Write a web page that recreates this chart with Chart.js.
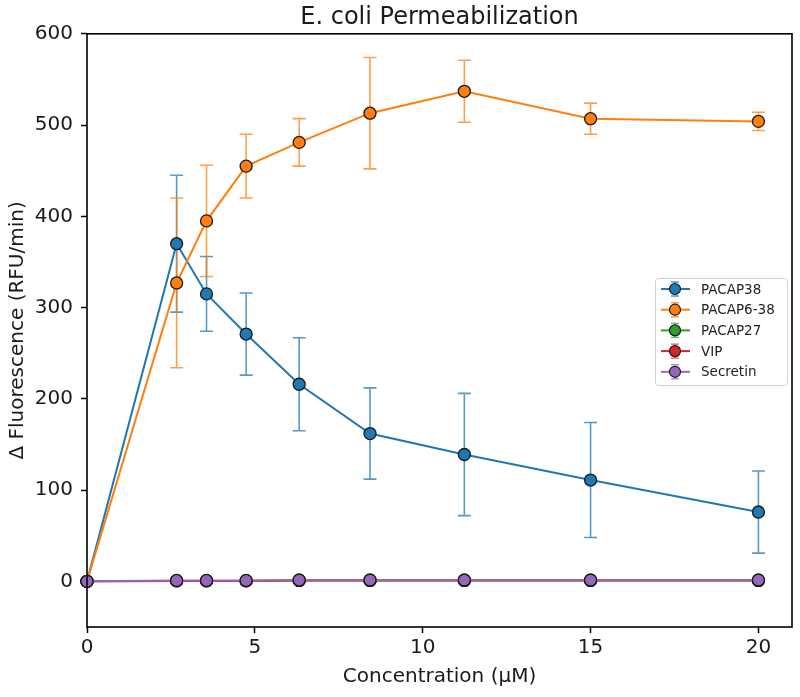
<!DOCTYPE html>
<html>
<head>
<meta charset="utf-8">
<script src="https://cdn.jsdelivr.net/npm/chart.js@4.4.0/dist/chart.umd.min.js"></script>
<style>
  html, body { margin: 0; padding: 0; background: #fff; }
</style>
</head>
<body>
<canvas id="permChart" width="800" height="697"></canvas>
<script>
// concentrations in uM (two-fold-ish dilution series)
const concentrations = [0, 2.67, 3.56, 4.74, 6.32, 8.43, 11.24, 15, 20];
const seriesNames = ["PACAP38", "PACAP6-38", "PACAP27", "VIP", "Secretin"];
const seriesColors = ["#1f77b4", "#ff7f0e", "#2ca02c", "#d62728", "#9467bd"];

const pacap38 = [0, 370, 315, 271, 216, 162, 139, 111, 76];
const pacap38Err = [0, 75, 41, 45, 51, 50, 67, 63, 45];
const pacap638 = [0, 327, 395, 455, 481, 513, 537, 507, 504];
const pacap638Err = [0, 93, 61, 35, 26, 61, 34, 17, 10];
const pacap27 = [0, 0.5, 0.5, 0.5, 1, 1, 1, 1, 1];
const pacap27Err = [0, 1, 1, 1, 1, 1, 1, 1, 1];
const vip = [0, 0.5, 0.5, 0.5, 1, 1, 1, 1, 1];
const vipErr = [0, 1, 1, 1, 1, 1, 1, 1, 1];
const secretin = [0, 1, 1, 1, 1.5, 1.5, 1.5, 1.5, 1.5];
const secretinErr = [0, 1, 1, 1, 1, 1, 1, 1, 1];

const yTicksMin = -50, yTicksMax = 600, yStep = 100;
const xTicksMax = 21, xStep = 5;

const seriesValues = [pacap38, pacap638, pacap27, vip, secretin];
const seriesErrors = [pacap38Err, pacap638Err, pacap27Err, vipErr, secretinErr];

const fontFamily = "'DejaVu Sans', 'Liberation Sans', sans-serif";

function withAlpha(hex, a) {
  const n = parseInt(hex.slice(1), 16);
  return `rgba(${(n >> 16) & 255}, ${(n >> 8) & 255}, ${n & 255}, ${a})`;
}

const datasets = seriesNames.map((name, i) => ({
  label: name,
  data: concentrations.map((c, j) => ({ x: c, y: seriesValues[i][j] })),
  errors: seriesErrors[i],
  borderColor: seriesColors[i],
  backgroundColor: seriesColors[i],
  pointBackgroundColor: seriesColors[i],
  pointBorderColor: "#1a1a1a",
  pointBorderWidth: 1.3,
  pointRadius: 6,
  borderWidth: 2,
  tension: 0,
  clip: false,
  order: seriesNames.length - i,
}));

// vertical error bars with caps, drawn under the lines
const errorBarPlugin = {
  id: "errorBars",
  beforeDatasetsDraw(chart) {
    const { ctx, scales: { x, y } } = chart;
    ctx.save();
    chart.data.datasets.forEach((ds) => {
      ctx.strokeStyle = withAlpha(ds.borderColor, 0.75);
      ctx.lineWidth = 1.6;
      ds.data.forEach((p, j) => {
        const err = ds.errors[j];
        if (!err) return;
        const px = x.getPixelForValue(p.x);
        const top = y.getPixelForValue(p.y + err);
        const bot = y.getPixelForValue(p.y - err);
        ctx.beginPath();
        ctx.moveTo(px, top); ctx.lineTo(px, bot);
        ctx.moveTo(px - 6.5, top); ctx.lineTo(px + 6.5, top);
        ctx.moveTo(px - 6.5, bot); ctx.lineTo(px + 6.5, bot);
        ctx.stroke();
      });
    });
    ctx.restore();
  },
};

// box around the plot, like matplotlib spines
const framePlugin = {
  id: "frame",
  afterDatasetsDraw(chart) {
    const { ctx, chartArea: a } = chart;
    ctx.save();
    ctx.strokeStyle = "#000";
    ctx.lineWidth = 1.6;
    ctx.strokeRect(a.left, a.top, a.right - a.left, a.bottom - a.top);
    ctx.restore();
  },
};

// legend box sitting inside the plot on the right
const legendPlugin = {
  id: "insideLegend",
  afterDraw(chart) {
    const { ctx } = chart;
    const boxX = 655, boxY = 278, boxW = 132, boxH = 107;
    ctx.save();
    ctx.fillStyle = "rgba(255,255,255,0.85)";
    ctx.strokeStyle = "#d0d0d0";
    ctx.lineWidth = 1;
    ctx.beginPath();
    ctx.roundRect(boxX + 0.5, boxY + 0.5, boxW, boxH, 3);
    ctx.fill();
    ctx.stroke();
    ctx.font = `13.5px ${fontFamily}`;
    ctx.textBaseline = "middle";
    seriesNames.forEach((name, i) => {
      const cy = boxY + 11 + i * 20.7;
      const cx = 675;
      ctx.strokeStyle = seriesColors[i];
      ctx.lineWidth = 2;
      ctx.beginPath();
      ctx.moveTo(661, cy); ctx.lineTo(690, cy);
      ctx.stroke();
      ctx.strokeStyle = withAlpha(seriesColors[i], 0.75);
      ctx.lineWidth = 1.4;
      ctx.beginPath();
      ctx.moveTo(cx, cy - 7); ctx.lineTo(cx, cy + 7);
      ctx.moveTo(cx - 4, cy - 7); ctx.lineTo(cx + 4, cy - 7);
      ctx.moveTo(cx - 4, cy + 7); ctx.lineTo(cx + 4, cy + 7);
      ctx.stroke();
      ctx.fillStyle = seriesColors[i];
      ctx.strokeStyle = "#1a1a1a";
      ctx.lineWidth = 1.2;
      ctx.beginPath();
      ctx.arc(cx, cy, 5.5, 0, Math.PI * 2);
      ctx.fill();
      ctx.stroke();
      ctx.fillStyle = "#222";
      ctx.fillText(name, 701, cy + 1);
    });
    ctx.restore();
  },
};

const axisFont = { family: fontFamily, size: 20, weight: "normal" };

new Chart(document.getElementById("permChart"), {
  type: "line",
  data: { datasets },
  options: {
    responsive: false,
    animation: false,
    layout: { padding: { left: 0, right: 8, top: 0, bottom: 0 } },
    plugins: {
      legend: { display: false },
      tooltip: { enabled: false },
      title: {
        display: true,
        text: "E. coli Permeabilization",
        fullSize: false,
        color: "#1a1a1a",
        font: { family: fontFamily, size: 24, weight: "normal", lineHeight: 1.2 },
        padding: { top: 3, bottom: 2 },
      },
    },
    scales: {
      x: {
        type: "linear",
        min: 0,
        max: xTicksMax,
        afterFit: (s) => { s.height = 70; },
        ticks: {
          stepSize: xStep,
          includeBounds: false,
          autoSkip: false,
          maxRotation: 0,
          padding: 3,
          color: "#1a1a1a",
          font: axisFont,
        },
        grid: { drawOnChartArea: false, drawTicks: true, tickLength: 6, tickColor: "#000", tickWidth: 1.5 },
        border: { display: false },
        title: {
          display: true,
          text: "Concentration (μM)",
          color: "#1a1a1a",
          font: { ...axisFont, lineHeight: 1.2 },
          padding: { top: 0, bottom: 8 },
        },
      },
      y: {
        min: yTicksMin,
        max: yTicksMax,
        afterFit: (s) => { s.width = 87; },
        ticks: {
          stepSize: yStep,
          includeBounds: false,
          autoSkip: false,
          padding: 8,
          color: "#1a1a1a",
          font: axisFont,
        },
        grid: { drawOnChartArea: false, drawTicks: true, tickLength: 6, tickColor: "#000", tickWidth: 1.5 },
        border: { display: false },
        title: {
          display: true,
          text: "Δ Fluorescence (RFU/min)",
          color: "#1a1a1a",
          font: { ...axisFont, lineHeight: 1.2 },
          padding: { top: 6, bottom: 0 },
        },
      },
    },
  },
  plugins: [errorBarPlugin, framePlugin, legendPlugin],
});
</script>
</body>
</html>
